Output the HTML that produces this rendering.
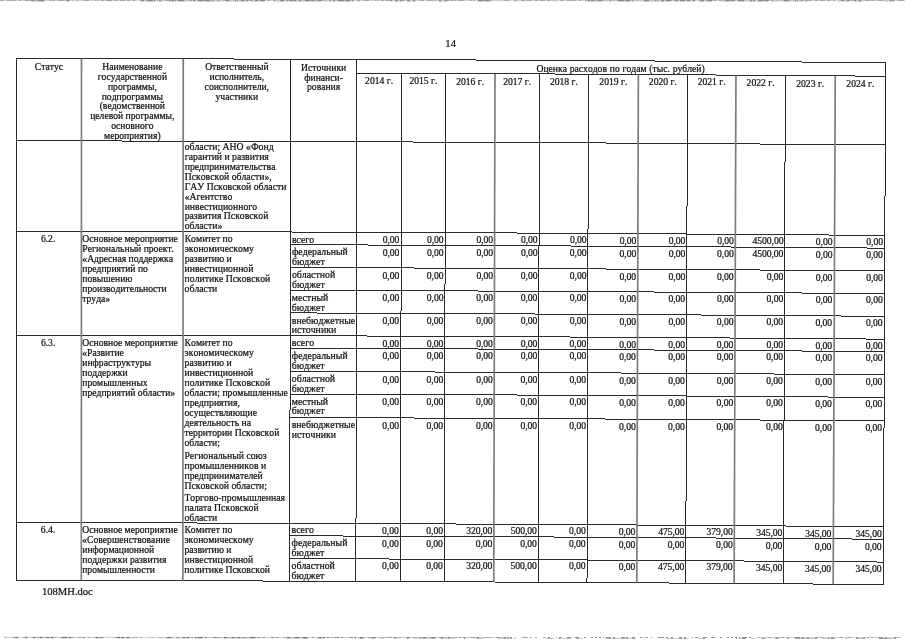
<!DOCTYPE html>
<html lang="ru"><head><meta charset="utf-8"><title>14</title>
<style>
html,body{margin:0;padding:0;background:#fff}
body{width:905px;height:640px;position:relative;overflow:hidden;font-family:"Liberation Serif","DejaVu Serif",serif;color:#111;font-kerning:none;font-variant-ligatures:none}
.t{position:absolute;white-space:nowrap;font-size:9.65px;line-height:11px;height:11px;-webkit-text-stroke:0.22px #111}
svg{position:absolute;left:0;top:0}
</style></head><body>
<svg width="905" height="640" viewBox="0 0 905 640">
<polyline points="16.40,58.50 88.83,58.63 161.27,58.80 233.70,59.01 306.13,59.26 378.57,59.55 451.00,59.88 523.43,60.24 595.87,60.65 668.30,61.09 740.74,61.57 813.17,62.09 885.60,62.65" stroke="#2b2b2b" stroke-width="1.00" fill="none" shape-rendering="crispEdges"/>
<polyline points="356.78,73.06 400.84,73.25 444.91,73.45 488.97,73.66 533.03,73.89 577.10,74.14 621.16,74.40 665.22,74.67 709.29,74.96 753.35,75.26 797.42,75.57 841.48,75.90 885.54,76.25" stroke="#2b2b2b" stroke-width="1.00" fill="none" shape-rendering="crispEdges"/>
<polyline points="16.40,140.80 88.80,140.93 161.21,141.10 233.61,141.31 306.02,141.56 378.42,141.85 450.82,142.18 523.23,142.54 595.63,142.95 668.03,143.39 740.44,143.87 812.84,144.39 885.24,144.95" stroke="#2b2b2b" stroke-width="1.00" fill="none" shape-rendering="crispEdges"/>
<polyline points="16.40,231.30 88.77,231.43 161.14,231.60 233.51,231.81 305.88,232.06 378.26,232.35 450.63,232.68 523.00,233.04 595.37,233.45 667.74,233.89 740.11,234.37 812.48,234.89 884.85,235.45" stroke="#2b2b2b" stroke-width="1.00" fill="none" shape-rendering="crispEdges"/>
<polyline points="16.40,335.00 88.73,335.13 161.07,335.30 233.40,335.51 305.73,335.76 378.07,336.05 450.40,336.38 522.73,336.74 595.07,337.15 667.40,337.59 739.73,338.07 812.07,338.59 884.40,339.15" stroke="#2b2b2b" stroke-width="1.00" fill="none" shape-rendering="crispEdges"/>
<polyline points="16.40,522.60 88.67,522.73 160.93,522.90 233.20,523.11 305.46,523.36 377.73,523.65 449.99,523.98 522.26,524.34 594.52,524.75 666.79,525.19 739.06,525.67 811.32,526.19 883.59,526.75" stroke="#2b2b2b" stroke-width="1.00" fill="none" shape-rendering="crispEdges"/>
<polyline points="16.40,580.40 88.65,580.53 160.89,580.70 233.14,580.91 305.38,581.16 377.62,581.45 449.87,581.78 522.11,582.14 594.36,582.55 666.60,582.99 738.85,583.47 811.09,583.99 883.34,584.55" stroke="#2b2b2b" stroke-width="1.00" fill="none" shape-rendering="crispEdges"/>
<polyline points="290.25,244.71 339.79,244.89 389.34,245.10 438.88,245.32 488.43,245.56 537.98,245.82 587.52,246.10 637.07,246.40 686.61,246.71 736.16,247.04 785.70,247.39 835.25,247.76 884.80,248.15" stroke="#2b2b2b" stroke-width="1.00" fill="none" shape-rendering="crispEdges"/>
<polyline points="290.22,267.51 339.76,267.69 389.30,267.90 438.84,268.12 488.38,268.36 537.92,268.62 587.46,268.90 637.00,269.20 686.54,269.51 736.08,269.84 785.62,270.19 835.16,270.56 884.70,270.95" stroke="#2b2b2b" stroke-width="1.00" fill="none" shape-rendering="crispEdges"/>
<polyline points="290.18,290.21 339.72,290.39 389.25,290.60 438.79,290.82 488.32,291.06 537.86,291.32 587.39,291.60 636.93,291.90 686.46,292.21 736.00,292.54 785.53,292.89 835.06,293.26 884.60,293.65" stroke="#2b2b2b" stroke-width="1.00" fill="none" shape-rendering="crispEdges"/>
<polyline points="290.15,312.91 339.68,313.09 389.21,313.30 438.74,313.52 488.27,313.76 537.80,314.02 587.33,314.30 636.86,314.60 686.38,314.91 735.91,315.24 785.44,315.59 834.97,315.96 884.50,316.35" stroke="#2b2b2b" stroke-width="1.00" fill="none" shape-rendering="crispEdges"/>
<polyline points="290.11,348.21 339.63,348.39 389.15,348.60 438.67,348.82 488.19,349.06 537.71,349.32 587.23,349.60 636.75,349.90 686.27,350.21 735.79,350.54 785.31,350.89 834.83,351.26 884.35,351.65" stroke="#2b2b2b" stroke-width="1.00" fill="none" shape-rendering="crispEdges"/>
<polyline points="290.07,371.41 339.59,371.59 389.10,371.80 438.62,372.02 488.13,372.26 537.65,372.52 587.16,372.80 636.67,373.10 686.19,373.41 735.70,373.74 785.22,374.09 834.73,374.46 884.25,374.85" stroke="#2b2b2b" stroke-width="1.00" fill="none" shape-rendering="crispEdges"/>
<polyline points="290.04,394.01 339.55,394.19 389.06,394.40 438.57,394.62 488.08,394.86 537.59,395.12 587.10,395.40 636.60,395.70 686.11,396.01 735.62,396.34 785.13,396.69 834.64,397.06 884.15,397.45" stroke="#2b2b2b" stroke-width="1.00" fill="none" shape-rendering="crispEdges"/>
<polyline points="290.01,417.51 339.51,417.69 389.02,417.90 438.52,418.12 488.02,418.36 537.53,418.62 587.03,418.90 636.53,419.20 686.03,419.51 735.54,419.84 785.04,420.19 834.54,420.56 884.05,420.95" stroke="#2b2b2b" stroke-width="1.00" fill="none" shape-rendering="crispEdges"/>
<polyline points="289.85,535.81 339.32,535.99 388.80,536.20 438.27,536.42 487.74,536.66 537.22,536.92 586.69,537.20 636.16,537.50 685.64,537.81 735.11,538.14 784.59,538.49 834.06,538.86 883.53,539.25" stroke="#2b2b2b" stroke-width="1.00" fill="none" shape-rendering="crispEdges"/>
<polyline points="289.82,558.61 339.29,558.79 388.75,559.00 438.22,559.22 487.69,559.46 537.16,559.72 586.63,560.00 636.09,560.30 685.56,560.61 735.03,560.94 784.50,561.29 833.97,561.66 883.43,562.05" stroke="#2b2b2b" stroke-width="1.00" fill="none" shape-rendering="crispEdges"/>
<line x1="16.40" y1="58.50" x2="16.40" y2="580.40" stroke="#2b2b2b" stroke-width="1.00" shape-rendering="crispEdges"/>
<line x1="81.50" y1="58.62" x2="81.33" y2="580.52" stroke="#7d7d7d" stroke-width="1.70"/>
<line x1="183.25" y1="58.86" x2="182.82" y2="580.76" stroke="#7d7d7d" stroke-width="1.70"/>
<line x1="290.50" y1="59.21" x2="289.79" y2="581.11" stroke="#2b2b2b" stroke-width="1.00" shape-rendering="crispEdges"/>
<line x1="356.80" y1="59.46" x2="355.91" y2="581.36" stroke="#2b2b2b" stroke-width="1.00" shape-rendering="crispEdges"/>
<line x1="401.47" y1="73.25" x2="400.50" y2="581.55" stroke="#2b2b2b" stroke-width="1.00" shape-rendering="crispEdges"/>
<line x1="445.47" y1="73.45" x2="444.38" y2="581.75" stroke="#2b2b2b" stroke-width="1.00" shape-rendering="crispEdges"/>
<line x1="494.97" y1="73.69" x2="493.75" y2="581.99" stroke="#7d7d7d" stroke-width="1.70"/>
<line x1="539.47" y1="73.93" x2="538.14" y2="582.23" stroke="#2b2b2b" stroke-width="1.00" shape-rendering="crispEdges"/>
<line x1="588.46" y1="74.20" x2="587.01" y2="582.50" stroke="#2b2b2b" stroke-width="1.00" shape-rendering="crispEdges"/>
<line x1="638.36" y1="74.50" x2="636.78" y2="582.80" stroke="#7d7d7d" stroke-width="1.70"/>
<line x1="687.46" y1="74.81" x2="685.75" y2="583.11" stroke="#2b2b2b" stroke-width="1.00" shape-rendering="crispEdges"/>
<line x1="735.95" y1="75.14" x2="734.13" y2="583.44" stroke="#7d7d7d" stroke-width="1.70"/>
<line x1="785.35" y1="75.48" x2="783.40" y2="583.78" stroke="#2b2b2b" stroke-width="1.00" shape-rendering="crispEdges"/>
<line x1="835.25" y1="75.85" x2="833.17" y2="584.15" stroke="#7d7d7d" stroke-width="1.70"/>
<line x1="885.60" y1="62.65" x2="883.34" y2="584.55" stroke="#2b2b2b" stroke-width="1.00" shape-rendering="crispEdges"/>
<line x1="0.0" y1="0.80" x2="905.0" y2="0.80" stroke="#c6c6c6" stroke-width="1.50"/>
<line x1="0.0" y1="0.60" x2="905.0" y2="0.60" stroke="#8a8a8a" stroke-width="1.05" stroke-dasharray="4 3 6 1 2 3 2 4 5 1 3 1 1 2 6 6 2 1 2 3 6 1 5 2 1 5 1 5 5 6 1 1 1 3 3 2 6 3 3 2 5 2 3 3 2 5"/>
<line x1="0.0" y1="1.30" x2="905.0" y2="1.30" stroke="#fff" stroke-width="1.20" stroke-dasharray="31 14 22 2 7 2 31 1 31 14 2 7 5 22 2 31 2 22 3 14 9 14 2 31 3 7 2 22 2 3 31 2 2 7 5 9 22 9"/>
<line x1="4.0" y1="637.60" x2="901.0" y2="638.20" stroke="#b8b8b8" stroke-width="1.50"/>
<line x1="4.0" y1="637.40" x2="901.0" y2="638.00" stroke="#6a6a6a" stroke-width="1.05" stroke-dasharray="2 6 1 2 3 5 4 4 4 5 2 5 2 2 2 2 2 2 1 2 5 2 2 6 4 1 2 4 3 5 2 2 1 1 2 3 1 6 6 2 2 3 2 6 3 2"/>
<line x1="4.0" y1="638.10" x2="901.0" y2="638.70" stroke="#fff" stroke-width="1.20" stroke-dasharray="9 5 7 3 5 22 5 14 9 2 9 9 14 14 1 2 31 9 3 3 1 9 5 7 22 31 31 22 9 7 31 1 2 7 5 5 5 5"/>
</svg>
<div class="t" style="left:450.63px;width:240px;margin-left:-120px;text-align:center;font-size:10.60px;top:38px">14</div>
<div class="t" style="left:48.95px;width:240px;margin-left:-120px;text-align:center;top:61px">Статус</div>
<div class="t" style="left:132.37px;width:240px;margin-left:-120px;text-align:center;top:61px">Наименование</div>
<div class="t" style="left:132.36px;width:240px;margin-left:-120px;text-align:center;top:71px">государственной</div>
<div class="t" style="left:132.36px;width:240px;margin-left:-120px;text-align:center;top:81px">программы,</div>
<div class="t" style="left:132.35px;width:240px;margin-left:-120px;text-align:center;top:91px">подпрограммы</div>
<div class="t" style="left:132.35px;width:240px;margin-left:-120px;text-align:center;top:100px">(ведомственной</div>
<div class="t" style="left:132.34px;width:240px;margin-left:-120px;text-align:center;top:110px">целевой программы,</div>
<div class="t" style="left:132.33px;width:240px;margin-left:-120px;text-align:center;top:120px">основного</div>
<div class="t" style="left:132.33px;width:240px;margin-left:-120px;text-align:center;top:130px">мероприятия)</div>
<div class="t" style="left:236.86px;width:240px;margin-left:-120px;text-align:center;top:61px">Ответственный</div>
<div class="t" style="left:236.85px;width:240px;margin-left:-120px;text-align:center;top:71px">исполнитель,</div>
<div class="t" style="left:236.84px;width:240px;margin-left:-120px;text-align:center;top:81px">соисполнители,</div>
<div class="t" style="left:236.83px;width:240px;margin-left:-120px;text-align:center;top:91px">участники</div>
<div class="t" style="left:323.63px;width:240px;margin-left:-120px;text-align:center;top:62px">Источники</div>
<div class="t" style="left:323.62px;width:240px;margin-left:-120px;text-align:center;top:72px">финанси-</div>
<div class="t" style="left:323.60px;width:240px;margin-left:-120px;text-align:center;top:81px">рования</div>
<div class="t" style="left:620.57px;width:240px;margin-left:-120px;text-align:center;word-spacing:0.400px;top:63px">Оценка расходов по годам (тыс. рублей)</div>
<div class="t" style="left:379.10px;width:240px;margin-left:-120px;text-align:center;top:75px">2014 г.</div>
<div class="t" style="left:423.45px;width:240px;margin-left:-120px;text-align:center;top:75px">2015 г.</div>
<div class="t" style="left:470.19px;width:240px;margin-left:-120px;text-align:center;top:76px">2016 г.</div>
<div class="t" style="left:517.18px;width:240px;margin-left:-120px;text-align:center;top:76px">2017 г.</div>
<div class="t" style="left:563.93px;width:240px;margin-left:-120px;text-align:center;top:76px">2018 г.</div>
<div class="t" style="left:613.37px;width:240px;margin-left:-120px;text-align:center;top:76px">2019 г.</div>
<div class="t" style="left:662.87px;width:240px;margin-left:-120px;text-align:center;top:76px">2020 г.</div>
<div class="t" style="left:711.66px;width:240px;margin-left:-120px;text-align:center;top:76px">2021 г.</div>
<div class="t" style="left:760.60px;width:240px;margin-left:-120px;text-align:center;top:77px">2022 г.</div>
<div class="t" style="left:810.24px;width:240px;margin-left:-120px;text-align:center;top:78px">2023 г.</div>
<div class="t" style="left:860.33px;width:240px;margin-left:-120px;text-align:center;top:78px">2024 г.</div>
<div class="t" style="left:184.72px;font-size:9.72px;top:141px">области; АНО «Фонд</div>
<div class="t" style="left:184.72px;font-size:9.72px;top:151px">гарантий и развития</div>
<div class="t" style="left:184.71px;font-size:9.72px;top:161px">предпринимательства</div>
<div class="t" style="left:184.70px;font-size:9.72px;top:171px">Псковской области»,</div>
<div class="t" style="left:184.69px;font-size:9.72px;top:181px">ГАУ Псковской области</div>
<div class="t" style="left:184.68px;font-size:9.72px;top:191px">«Агентство</div>
<div class="t" style="left:184.67px;font-size:9.72px;top:201px">инвестиционного</div>
<div class="t" style="left:184.67px;font-size:9.72px;top:210px">развития Псковской</div>
<div class="t" style="left:184.66px;font-size:9.72px;top:220px">области»</div>
<div class="t" style="left:48.12px;width:240px;margin-left:-120px;text-align:center;top:233px">6.2.</div>
<div class="t" style="left:82.34px;top:233px">Основное мероприятие</div>
<div class="t" style="left:82.34px;top:243px">Региональный проект.</div>
<div class="t" style="left:82.33px;top:253px">«Адресная поддержка</div>
<div class="t" style="left:82.33px;top:263px">предприятий по</div>
<div class="t" style="left:82.33px;top:273px">повышению</div>
<div class="t" style="left:82.32px;top:283px">производительности</div>
<div class="t" style="left:82.32px;top:293px">труда»</div>
<div class="t" style="left:184.65px;font-size:9.72px;top:233px">Комитет по</div>
<div class="t" style="left:184.64px;font-size:9.72px;top:243px">экономическому</div>
<div class="t" style="left:184.63px;font-size:9.72px;top:253px">развитию и</div>
<div class="t" style="left:184.62px;font-size:9.72px;top:263px">инвестиционной</div>
<div class="t" style="left:184.61px;font-size:9.72px;top:273px">политике Псковской</div>
<div class="t" style="left:184.60px;font-size:9.72px;top:283px">области</div>
<div class="t" style="left:291.95px;font-size:9.85px;top:234px">всего</div>
<div class="t" style="right:505.75px;text-align:right;letter-spacing:-0.060px;top:234px">0,00</div>
<div class="t" style="right:461.49px;text-align:right;letter-spacing:-0.060px;top:234px">0,00</div>
<div class="t" style="right:411.94px;text-align:right;letter-spacing:-0.060px;top:234px">0,00</div>
<div class="t" style="right:367.48px;text-align:right;letter-spacing:-0.060px;top:234px">0,00</div>
<div class="t" style="right:318.52px;text-align:right;letter-spacing:-0.060px;top:234px">0,00</div>
<div class="t" style="right:268.77px;text-align:right;letter-spacing:-0.060px;top:235px">0,00</div>
<div class="t" style="right:219.71px;text-align:right;letter-spacing:-0.060px;top:235px">0,00</div>
<div class="t" style="right:171.26px;text-align:right;letter-spacing:-0.060px;top:235px">0,00</div>
<div class="t" style="right:121.60px;text-align:right;letter-spacing:-0.060px;top:235px">4500,00</div>
<div class="t" style="right:72.55px;text-align:right;letter-spacing:-0.060px;top:236px">0,00</div>
<div class="t" style="right:22.09px;text-align:right;letter-spacing:-0.060px;top:236px">0,00</div>
<div class="t" style="left:291.93px;font-size:9.85px;top:246px">федеральный</div>
<div class="t" style="left:291.92px;font-size:9.85px;top:256px">бюджет</div>
<div class="t" style="right:505.77px;text-align:right;letter-spacing:-0.060px;top:247px">0,00</div>
<div class="t" style="right:461.52px;text-align:right;letter-spacing:-0.060px;top:247px">0,00</div>
<div class="t" style="right:411.97px;text-align:right;letter-spacing:-0.060px;top:247px">0,00</div>
<div class="t" style="right:367.51px;text-align:right;letter-spacing:-0.060px;top:247px">0,00</div>
<div class="t" style="right:318.56px;text-align:right;letter-spacing:-0.060px;top:247px">0,00</div>
<div class="t" style="right:268.81px;text-align:right;letter-spacing:-0.060px;top:248px">0,00</div>
<div class="t" style="right:219.75px;text-align:right;letter-spacing:-0.060px;top:248px">0,00</div>
<div class="t" style="right:171.30px;text-align:right;letter-spacing:-0.060px;top:248px">0,00</div>
<div class="t" style="right:121.65px;text-align:right;letter-spacing:-0.060px;top:248px">4500,00</div>
<div class="t" style="right:72.60px;text-align:right;letter-spacing:-0.060px;top:249px">0,00</div>
<div class="t" style="right:22.15px;text-align:right;letter-spacing:-0.060px;top:249px">0,00</div>
<div class="t" style="left:291.90px;font-size:9.85px;top:269px">областной</div>
<div class="t" style="left:291.89px;font-size:9.85px;top:279px">бюджет</div>
<div class="t" style="right:505.82px;text-align:right;letter-spacing:-0.060px;top:270px">0,00</div>
<div class="t" style="right:461.57px;text-align:right;letter-spacing:-0.060px;top:270px">0,00</div>
<div class="t" style="right:412.02px;text-align:right;letter-spacing:-0.060px;top:270px">0,00</div>
<div class="t" style="right:367.57px;text-align:right;letter-spacing:-0.060px;top:270px">0,00</div>
<div class="t" style="right:318.62px;text-align:right;letter-spacing:-0.060px;top:270px">0,00</div>
<div class="t" style="right:268.88px;text-align:right;letter-spacing:-0.060px;top:271px">0,00</div>
<div class="t" style="right:219.83px;text-align:right;letter-spacing:-0.060px;top:271px">0,00</div>
<div class="t" style="right:171.38px;text-align:right;letter-spacing:-0.060px;top:271px">0,00</div>
<div class="t" style="right:121.74px;text-align:right;letter-spacing:-0.060px;top:271px">0,00</div>
<div class="t" style="right:72.69px;text-align:right;letter-spacing:-0.060px;top:272px">0,00</div>
<div class="t" style="right:22.25px;text-align:right;letter-spacing:-0.060px;top:272px">0,00</div>
<div class="t" style="left:291.87px;font-size:9.85px;top:292px">местный</div>
<div class="t" style="left:291.85px;font-size:9.85px;top:302px">бюджет</div>
<div class="t" style="right:505.86px;text-align:right;letter-spacing:-0.060px;top:292px">0,00</div>
<div class="t" style="right:461.61px;text-align:right;letter-spacing:-0.060px;top:292px">0,00</div>
<div class="t" style="right:412.07px;text-align:right;letter-spacing:-0.060px;top:292px">0,00</div>
<div class="t" style="right:367.63px;text-align:right;letter-spacing:-0.060px;top:292px">0,00</div>
<div class="t" style="right:318.69px;text-align:right;letter-spacing:-0.060px;top:292px">0,00</div>
<div class="t" style="right:268.95px;text-align:right;letter-spacing:-0.060px;top:293px">0,00</div>
<div class="t" style="right:219.91px;text-align:right;letter-spacing:-0.060px;top:293px">0,00</div>
<div class="t" style="right:171.47px;text-align:right;letter-spacing:-0.060px;top:293px">0,00</div>
<div class="t" style="right:121.83px;text-align:right;letter-spacing:-0.060px;top:293px">0,00</div>
<div class="t" style="right:72.78px;text-align:right;letter-spacing:-0.060px;top:294px">0,00</div>
<div class="t" style="right:22.35px;text-align:right;letter-spacing:-0.060px;top:294px">0,00</div>
<div class="t" style="left:291.84px;font-size:9.85px;top:315px">внебюджетные</div>
<div class="t" style="left:291.82px;font-size:9.85px;top:324px">источники</div>
<div class="t" style="right:505.90px;text-align:right;letter-spacing:-0.060px;top:315px">0,00</div>
<div class="t" style="right:461.66px;text-align:right;letter-spacing:-0.060px;top:315px">0,00</div>
<div class="t" style="right:412.13px;text-align:right;letter-spacing:-0.060px;top:315px">0,00</div>
<div class="t" style="right:367.69px;text-align:right;letter-spacing:-0.060px;top:315px">0,00</div>
<div class="t" style="right:318.75px;text-align:right;letter-spacing:-0.060px;top:315px">0,00</div>
<div class="t" style="right:269.02px;text-align:right;letter-spacing:-0.060px;top:316px">0,00</div>
<div class="t" style="right:219.98px;text-align:right;letter-spacing:-0.060px;top:316px">0,00</div>
<div class="t" style="right:171.55px;text-align:right;letter-spacing:-0.060px;top:316px">0,00</div>
<div class="t" style="right:121.91px;text-align:right;letter-spacing:-0.060px;top:316px">0,00</div>
<div class="t" style="right:72.88px;text-align:right;letter-spacing:-0.060px;top:317px">0,00</div>
<div class="t" style="right:22.44px;text-align:right;letter-spacing:-0.060px;top:317px">0,00</div>
<div class="t" style="left:48.11px;width:240px;margin-left:-120px;text-align:center;top:337px">6.3.</div>
<div class="t" style="left:82.31px;top:337px">Основное мероприятие</div>
<div class="t" style="left:82.30px;top:347px">«Развитие</div>
<div class="t" style="left:82.30px;top:357px">инфраструктуры</div>
<div class="t" style="left:82.30px;top:367px">поддержки</div>
<div class="t" style="left:82.29px;top:377px">промышленных</div>
<div class="t" style="left:82.29px;top:387px">предприятий области»</div>
<div class="t" style="left:184.56px;font-size:9.72px;top:337px">Комитет по</div>
<div class="t" style="left:184.55px;font-size:9.72px;top:347px">экономическому</div>
<div class="t" style="left:184.54px;font-size:9.72px;top:357px">развитию и</div>
<div class="t" style="left:184.53px;font-size:9.72px;top:367px">инвестиционной</div>
<div class="t" style="left:184.53px;font-size:9.72px;top:377px">политике Псковской</div>
<div class="t" style="left:184.52px;font-size:9.72px;top:387px">области; промышленные</div>
<div class="t" style="left:184.51px;font-size:9.72px;top:397px">предприятия,</div>
<div class="t" style="left:184.50px;font-size:9.72px;top:407px">осуществляющие</div>
<div class="t" style="left:184.49px;font-size:9.72px;top:417px">деятельность на</div>
<div class="t" style="left:184.48px;font-size:9.72px;top:427px">территории Псковской</div>
<div class="t" style="left:184.48px;font-size:9.72px;top:437px">области;</div>
<div class="t" style="left:184.47px;font-size:9.72px;top:450px">Региональный союз</div>
<div class="t" style="left:184.46px;font-size:9.72px;top:460px">промышленников и</div>
<div class="t" style="left:184.45px;font-size:9.72px;top:470px">предпринимателей</div>
<div class="t" style="left:184.44px;font-size:9.72px;top:480px">Псковской области;</div>
<div class="t" style="left:184.43px;font-size:9.72px;top:492px">Торгово-промышленная</div>
<div class="t" style="left:184.42px;font-size:9.72px;top:502px">палата Псковской</div>
<div class="t" style="left:184.41px;font-size:9.72px;top:512px">области</div>
<div class="t" style="left:291.81px;font-size:9.85px;top:337px">всего</div>
<div class="t" style="right:505.95px;text-align:right;letter-spacing:-0.060px;top:338px">0,00</div>
<div class="t" style="right:461.71px;text-align:right;letter-spacing:-0.060px;top:338px">0,00</div>
<div class="t" style="right:412.18px;text-align:right;letter-spacing:-0.060px;top:338px">0,00</div>
<div class="t" style="right:367.75px;text-align:right;letter-spacing:-0.060px;top:338px">0,00</div>
<div class="t" style="right:318.82px;text-align:right;letter-spacing:-0.060px;top:338px">0,00</div>
<div class="t" style="right:269.09px;text-align:right;letter-spacing:-0.060px;top:339px">0,00</div>
<div class="t" style="right:220.06px;text-align:right;letter-spacing:-0.060px;top:339px">0,00</div>
<div class="t" style="right:171.63px;text-align:right;letter-spacing:-0.060px;top:339px">0,00</div>
<div class="t" style="right:122.00px;text-align:right;letter-spacing:-0.060px;top:339px">0,00</div>
<div class="t" style="right:72.97px;text-align:right;letter-spacing:-0.060px;top:340px">0,00</div>
<div class="t" style="right:22.54px;text-align:right;letter-spacing:-0.060px;top:340px">0,00</div>
<div class="t" style="left:291.79px;font-size:9.85px;top:350px">федеральный</div>
<div class="t" style="left:291.77px;font-size:9.85px;top:360px">бюджет</div>
<div class="t" style="right:505.97px;text-align:right;letter-spacing:-0.060px;top:350px">0,00</div>
<div class="t" style="right:461.74px;text-align:right;letter-spacing:-0.060px;top:350px">0,00</div>
<div class="t" style="right:412.21px;text-align:right;letter-spacing:-0.060px;top:350px">0,00</div>
<div class="t" style="right:367.78px;text-align:right;letter-spacing:-0.060px;top:350px">0,00</div>
<div class="t" style="right:318.85px;text-align:right;letter-spacing:-0.060px;top:350px">0,00</div>
<div class="t" style="right:269.13px;text-align:right;letter-spacing:-0.060px;top:351px">0,00</div>
<div class="t" style="right:220.10px;text-align:right;letter-spacing:-0.060px;top:351px">0,00</div>
<div class="t" style="right:171.67px;text-align:right;letter-spacing:-0.060px;top:351px">0,00</div>
<div class="t" style="right:122.05px;text-align:right;letter-spacing:-0.060px;top:351px">0,00</div>
<div class="t" style="right:73.02px;text-align:right;letter-spacing:-0.060px;top:352px">0,00</div>
<div class="t" style="right:22.60px;text-align:right;letter-spacing:-0.060px;top:352px">0,00</div>
<div class="t" style="left:291.76px;font-size:9.85px;top:373px">областной</div>
<div class="t" style="left:291.74px;font-size:9.85px;top:383px">бюджет</div>
<div class="t" style="right:506.02px;text-align:right;letter-spacing:-0.060px;top:374px">0,00</div>
<div class="t" style="right:461.79px;text-align:right;letter-spacing:-0.060px;top:374px">0,00</div>
<div class="t" style="right:412.27px;text-align:right;letter-spacing:-0.060px;top:374px">0,00</div>
<div class="t" style="right:367.84px;text-align:right;letter-spacing:-0.060px;top:374px">0,00</div>
<div class="t" style="right:318.92px;text-align:right;letter-spacing:-0.060px;top:374px">0,00</div>
<div class="t" style="right:269.20px;text-align:right;letter-spacing:-0.060px;top:375px">0,00</div>
<div class="t" style="right:220.18px;text-align:right;letter-spacing:-0.060px;top:375px">0,00</div>
<div class="t" style="right:171.76px;text-align:right;letter-spacing:-0.060px;top:375px">0,00</div>
<div class="t" style="right:122.14px;text-align:right;letter-spacing:-0.060px;top:375px">0,00</div>
<div class="t" style="right:73.12px;text-align:right;letter-spacing:-0.060px;top:376px">0,00</div>
<div class="t" style="right:22.70px;text-align:right;letter-spacing:-0.060px;top:376px">0,00</div>
<div class="t" style="left:291.73px;font-size:9.85px;top:396px">местный</div>
<div class="t" style="left:291.71px;font-size:9.85px;top:405px">бюджет</div>
<div class="t" style="right:506.06px;text-align:right;letter-spacing:-0.060px;top:396px">0,00</div>
<div class="t" style="right:461.84px;text-align:right;letter-spacing:-0.060px;top:396px">0,00</div>
<div class="t" style="right:412.32px;text-align:right;letter-spacing:-0.060px;top:396px">0,00</div>
<div class="t" style="right:367.90px;text-align:right;letter-spacing:-0.060px;top:396px">0,00</div>
<div class="t" style="right:318.98px;text-align:right;letter-spacing:-0.060px;top:396px">0,00</div>
<div class="t" style="right:269.27px;text-align:right;letter-spacing:-0.060px;top:397px">0,00</div>
<div class="t" style="right:220.25px;text-align:right;letter-spacing:-0.060px;top:397px">0,00</div>
<div class="t" style="right:171.84px;text-align:right;letter-spacing:-0.060px;top:397px">0,00</div>
<div class="t" style="right:122.22px;text-align:right;letter-spacing:-0.060px;top:397px">0,00</div>
<div class="t" style="right:73.21px;text-align:right;letter-spacing:-0.060px;top:398px">0,00</div>
<div class="t" style="right:22.80px;text-align:right;letter-spacing:-0.060px;top:398px">0,00</div>
<div class="t" style="left:291.69px;font-size:9.85px;top:419px">внебюджетные</div>
<div class="t" style="left:291.68px;font-size:9.85px;top:429px">источники</div>
<div class="t" style="right:506.11px;text-align:right;letter-spacing:-0.060px;top:420px">0,00</div>
<div class="t" style="right:461.89px;text-align:right;letter-spacing:-0.060px;top:420px">0,00</div>
<div class="t" style="right:412.38px;text-align:right;letter-spacing:-0.060px;top:420px">0,00</div>
<div class="t" style="right:367.96px;text-align:right;letter-spacing:-0.060px;top:420px">0,00</div>
<div class="t" style="right:319.05px;text-align:right;letter-spacing:-0.060px;top:420px">0,00</div>
<div class="t" style="right:269.34px;text-align:right;letter-spacing:-0.060px;top:421px">0,00</div>
<div class="t" style="right:220.33px;text-align:right;letter-spacing:-0.060px;top:421px">0,00</div>
<div class="t" style="right:171.92px;text-align:right;letter-spacing:-0.060px;top:421px">0,00</div>
<div class="t" style="right:122.31px;text-align:right;letter-spacing:-0.060px;top:421px">0,00</div>
<div class="t" style="right:73.30px;text-align:right;letter-spacing:-0.060px;top:422px">0,00</div>
<div class="t" style="right:22.90px;text-align:right;letter-spacing:-0.060px;top:422px">0,00</div>
<div class="t" style="left:48.08px;width:240px;margin-left:-120px;text-align:center;top:524px">6.4.</div>
<div class="t" style="left:82.25px;top:524px">Основное мероприятие</div>
<div class="t" style="left:82.24px;top:534px">«Совершенствование</div>
<div class="t" style="left:82.24px;top:544px">информационной</div>
<div class="t" style="left:82.24px;top:554px">поддержки развития</div>
<div class="t" style="left:82.23px;top:564px">промышленности</div>
<div class="t" style="left:184.40px;font-size:9.72px;top:524px">Комитет по</div>
<div class="t" style="left:184.39px;font-size:9.72px;top:534px">экономическому</div>
<div class="t" style="left:184.39px;font-size:9.72px;top:544px">развитию и</div>
<div class="t" style="left:184.38px;font-size:9.72px;top:554px">инвестиционной</div>
<div class="t" style="left:184.37px;font-size:9.72px;top:564px">политике Псковской</div>
<div class="t" style="left:291.55px;font-size:9.85px;top:524px">всего</div>
<div class="t" style="right:506.31px;text-align:right;letter-spacing:-0.060px;top:525px">0,00</div>
<div class="t" style="right:462.11px;text-align:right;letter-spacing:-0.060px;top:525px">0,00</div>
<div class="t" style="right:412.63px;text-align:right;letter-spacing:-0.060px;top:525px">320,00</div>
<div class="t" style="right:368.23px;text-align:right;letter-spacing:-0.060px;top:525px">500,00</div>
<div class="t" style="right:319.35px;text-align:right;letter-spacing:-0.060px;top:525px">0,00</div>
<div class="t" style="right:269.67px;text-align:right;letter-spacing:-0.060px;top:526px">0,00</div>
<div class="t" style="right:220.68px;text-align:right;letter-spacing:-0.060px;top:526px">475,00</div>
<div class="t" style="right:172.30px;text-align:right;letter-spacing:-0.060px;top:526px">379,00</div>
<div class="t" style="right:122.72px;text-align:right;letter-spacing:-0.060px;top:527px">345,00</div>
<div class="t" style="right:73.73px;text-align:right;letter-spacing:-0.060px;top:528px">345,00</div>
<div class="t" style="right:23.35px;text-align:right;letter-spacing:-0.060px;top:528px">345,00</div>
<div class="t" style="left:291.53px;font-size:9.85px;top:537px">федеральный</div>
<div class="t" style="left:291.52px;font-size:9.85px;top:547px">бюджет</div>
<div class="t" style="right:506.33px;text-align:right;letter-spacing:-0.060px;top:538px">0,00</div>
<div class="t" style="right:462.14px;text-align:right;letter-spacing:-0.060px;top:538px">0,00</div>
<div class="t" style="right:412.66px;text-align:right;letter-spacing:-0.060px;top:538px">0,00</div>
<div class="t" style="right:368.27px;text-align:right;letter-spacing:-0.060px;top:538px">0,00</div>
<div class="t" style="right:319.39px;text-align:right;letter-spacing:-0.060px;top:538px">0,00</div>
<div class="t" style="right:269.71px;text-align:right;letter-spacing:-0.060px;top:539px">0,00</div>
<div class="t" style="right:220.73px;text-align:right;letter-spacing:-0.060px;top:539px">0,00</div>
<div class="t" style="right:172.34px;text-align:right;letter-spacing:-0.060px;top:539px">0,00</div>
<div class="t" style="right:122.77px;text-align:right;letter-spacing:-0.060px;top:540px">0,00</div>
<div class="t" style="right:73.78px;text-align:right;letter-spacing:-0.060px;top:541px">0,00</div>
<div class="t" style="right:23.41px;text-align:right;letter-spacing:-0.060px;top:541px">0,00</div>
<div class="t" style="left:291.50px;font-size:9.85px;top:560px">областной</div>
<div class="t" style="left:291.49px;font-size:9.85px;top:570px">бюджет</div>
<div class="t" style="right:506.37px;text-align:right;letter-spacing:-0.060px;top:560px">0,00</div>
<div class="t" style="right:462.19px;text-align:right;letter-spacing:-0.060px;top:560px">0,00</div>
<div class="t" style="right:412.71px;text-align:right;letter-spacing:-0.060px;top:560px">320,00</div>
<div class="t" style="right:368.33px;text-align:right;letter-spacing:-0.060px;top:560px">500,00</div>
<div class="t" style="right:319.45px;text-align:right;letter-spacing:-0.060px;top:560px">0,00</div>
<div class="t" style="right:269.78px;text-align:right;letter-spacing:-0.060px;top:561px">0,00</div>
<div class="t" style="right:220.80px;text-align:right;letter-spacing:-0.060px;top:561px">475,00</div>
<div class="t" style="right:172.43px;text-align:right;letter-spacing:-0.060px;top:561px">379,00</div>
<div class="t" style="right:122.85px;text-align:right;letter-spacing:-0.060px;top:562px">345,00</div>
<div class="t" style="right:73.88px;text-align:right;letter-spacing:-0.060px;top:563px">345,00</div>
<div class="t" style="right:23.51px;text-align:right;letter-spacing:-0.060px;top:563px">345,00</div>
<div class="t" style="left:41.93px;font-size:10.60px;top:586px">108MH.doc</div>
</body></html>
